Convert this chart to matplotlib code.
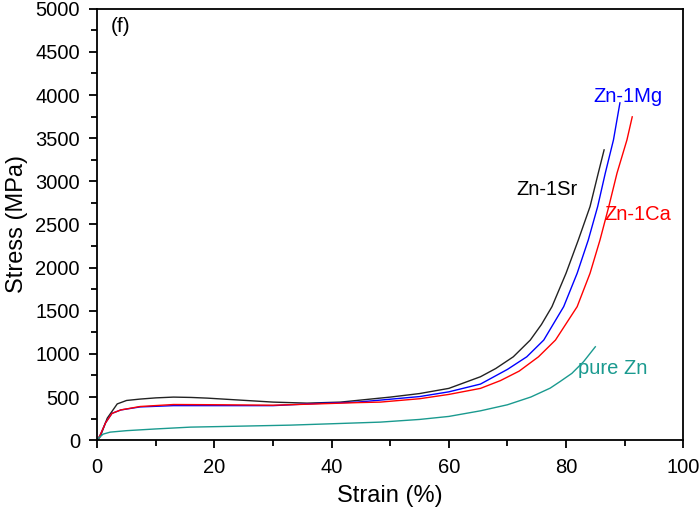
import matplotlib.pyplot as plt
from matplotlib.ticker import MultipleLocator

plt.rcParams['font.family'] = ['Liberation Sans', 'DejaVu Sans']

# strain (%) / stress (MPa)
sr_strain = [0, 0.5, 1.7, 3.4, 5, 7.3, 10, 13, 16, 18.8, 24.4, 30, 35.8, 41.5, 50, 55, 60,
             65.4, 68, 71, 73.9, 75.8, 77.6, 80, 82.1, 84.1, 85.5, 86.5]
sr_stress = [0, 40, 255, 420, 460, 476, 490, 499, 495, 487, 464, 441, 429, 441, 499, 540, 600,
             735, 830, 966, 1160, 1340, 1547, 1934, 2320, 2707, 3094, 3364]

mg_strain = [0, 0.5, 1.4, 2.5, 4, 7.3, 13, 21.5, 30, 37.5, 44.4, 48.3, 55, 60, 65.4, 70,
             73.3, 76.2, 79.6, 81.9, 83.8, 85.4, 86.7, 88.1, 89.2]
mg_stress = [0, 60, 200, 310, 350, 385, 400, 400, 400, 425, 441, 464, 505, 560, 650, 820,
             966, 1160, 1547, 1934, 2320, 2707, 3094, 3480, 3909]

ca_strain = [0, 0.5, 1.4, 2.5, 4, 7.3, 13, 21.5, 30, 37.5, 44.4, 48.3, 55, 60, 65.4, 68.8,
             72, 75.3, 78.2, 81.9, 84.1, 85.8, 87.3, 88.7, 90.4, 91.3]
ca_stress = [0, 60, 200, 310, 350, 390, 413, 410, 405, 420, 435, 441, 480, 530, 600, 690,
             800, 966, 1160, 1547, 1934, 2320, 2707, 3094, 3480, 3747]

zn_strain = [0, 0.2, 1, 2.2, 5, 10, 15.9, 25, 32.9, 40, 48.3, 55, 60, 65.4, 70, 74,
             77.3, 79, 81, 83, 85]
zn_stress = [0, 23, 70, 93, 110, 130, 151, 163, 174, 190, 209, 240, 275, 340, 410, 500,
             603, 680, 774, 910, 1082]

fig, ax = plt.subplots(figsize=(7, 5.13), dpi=100)

ax.plot(sr_strain, sr_stress, color='#222222', lw=1)
ax.plot(mg_strain, mg_stress, color='blue', lw=1)
ax.plot(ca_strain, ca_stress, color='red', lw=1)
ax.plot(zn_strain, zn_stress, color='#1a9a8f', lw=1)

ax.text(88, 835, 'pure Zn', color='#1a9a8f', fontsize=14.5, ha='center', va='center')
ax.text(90.6, 3980, 'Zn-1Mg', color='blue', fontsize=14.5, ha='center', va='center')
ax.text(76.8, 2900, 'Zn-1Sr', color='black', fontsize=14.5, ha='center', va='center')
ax.text(92.3, 2620, 'Zn-1Ca', color='red', fontsize=14.5, ha='center', va='center')
ax.text(3.9, 4790, '(f)', fontsize=15, ha='center', va='center')

ax.set_xlim(0, 100)
ax.set_ylim(0, 5000)
ax.xaxis.set_major_locator(MultipleLocator(20))
ax.xaxis.set_minor_locator(MultipleLocator(10))
ax.yaxis.set_major_locator(MultipleLocator(500))
ax.yaxis.set_minor_locator(MultipleLocator(250))
ax.tick_params(which='both', direction='out', labelsize=14.5, top=False, right=False, width=1.3)
ax.tick_params(which='major', length=6, pad=6.5)
ax.tick_params(which='minor', length=4)
for s in ax.spines.values():
    s.set_linewidth(1.3)
ax.set_xlabel('Strain (%)', fontsize=17, labelpad=6)
ax.set_ylabel('Stress (MPa)', fontsize=17, labelpad=5)

fig.subplots_adjust(left=0.139, right=0.976, top=0.983, bottom=0.142)
fig.savefig('out.png', dpi=100)
